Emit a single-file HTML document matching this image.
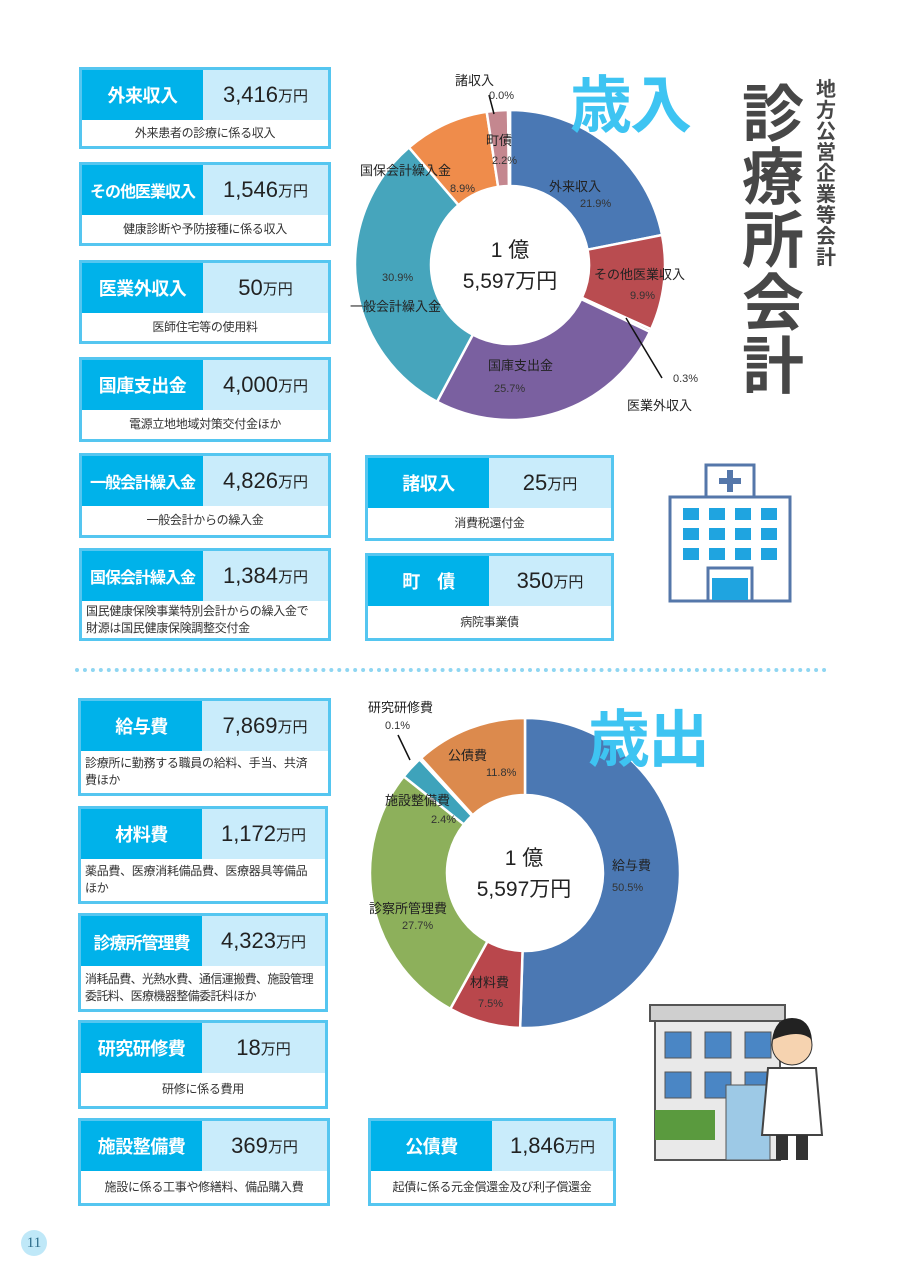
<!DOCTYPE html><html><head><meta charset="utf-8"><style>
body{margin:0;width:900px;height:1273px;background:#fff;position:relative;font-family:"Liberation Sans","Noto Sans CJK JP",sans-serif;color:#333;overflow:hidden}
.b{position:absolute;border:3px solid #55c6f0;background:#fff;box-sizing:border-box}
.h{position:absolute;left:0;top:0;height:50px;background:#00b2ea;color:#fff;font-weight:bold;font-size:18px;display:flex;align-items:center;justify-content:center;white-space:nowrap;letter-spacing:-0.5px}
.h.s{font-size:16px;letter-spacing:-1px}
.v{position:absolute;top:0;right:0;height:50px;background:#c9ecfb;display:flex;align-items:center;justify-content:center;font-size:22px;color:#222}
.v small{font-size:15px}
.d{position:absolute;left:0;right:0;top:50px;bottom:0;font-size:12px;display:flex;align-items:center;justify-content:center;color:#333;line-height:17px;white-space:nowrap;letter-spacing:-0.3px}
.d.l{justify-content:flex-start;padding-left:4px}
.t{position:absolute;font-size:13px;color:#222;white-space:nowrap}
.p{position:absolute;font-size:11px;color:#333;white-space:nowrap}
</style></head><body>
<div class="b" style="left:79px;top:67px;width:252px;height:82px"><div class="h" style="width:121px">外来収入</div><div class="v" style="left:121px">3,416<small>万円</small></div><div class="d">外来患者の診療に係る収入</div></div>
<div class="b" style="left:79px;top:162px;width:252px;height:84px"><div class="h s" style="width:121px">その他医業収入</div><div class="v" style="left:121px">1,546<small>万円</small></div><div class="d">健康診断や予防接種に係る収入</div></div>
<div class="b" style="left:79px;top:260px;width:252px;height:84px"><div class="h" style="width:121px">医業外収入</div><div class="v" style="left:121px">50<small>万円</small></div><div class="d">医師住宅等の使用料</div></div>
<div class="b" style="left:79px;top:357px;width:252px;height:85px"><div class="h" style="width:121px">国庫支出金</div><div class="v" style="left:121px">4,000<small>万円</small></div><div class="d">電源立地地域対策交付金ほか</div></div>
<div class="b" style="left:79px;top:453px;width:252px;height:85px"><div class="h s" style="width:121px">一般会計繰入金</div><div class="v" style="left:121px">4,826<small>万円</small></div><div class="d">一般会計からの繰入金</div></div>
<div class="b" style="left:79px;top:548px;width:252px;height:93px"><div class="h s" style="width:121px">国保会計繰入金</div><div class="v" style="left:121px">1,384<small>万円</small></div><div class="d l">国民健康保険事業特別会計からの繰入金で<br>財源は国民健康保険調整交付金</div></div>
<div class="b" style="left:365px;top:455px;width:249px;height:86px"><div class="h" style="width:121px">諸収入</div><div class="v" style="left:121px">25<small>万円</small></div><div class="d">消費税還付金</div></div>
<div class="b" style="left:365px;top:553px;width:249px;height:88px"><div class="h" style="width:121px">町　債</div><div class="v" style="left:121px">350<small>万円</small></div><div class="d">病院事業債</div></div>

<div style="position:absolute;left:75px;top:668px;width:752px;border-top:4px dotted #8fd6f2"></div>

<div class="b" style="left:78px;top:698px;width:253px;height:98px"><div class="h" style="width:121px">給与費</div><div class="v" style="left:121px">7,869<small>万円</small></div><div class="d l">診療所に勤務する職員の給料、手当、共済<br>費ほか</div></div>
<div class="b" style="left:78px;top:806px;width:250px;height:98px"><div class="h" style="width:121px">材料費</div><div class="v" style="left:121px">1,172<small>万円</small></div><div class="d l">薬品費、医療消耗備品費、医療器具等備品<br>ほか</div></div>
<div class="b" style="left:78px;top:913px;width:250px;height:99px"><div class="h s" style="width:121px;font-size:17px">診療所管理費</div><div class="v" style="left:121px">4,323<small>万円</small></div><div class="d l" style="letter-spacing:-0.6px">消耗品費、光熱水費、通信運搬費、施設管理<br>委託料、医療機器整備委託料ほか</div></div>
<div class="b" style="left:78px;top:1020px;width:250px;height:89px"><div class="h" style="width:121px">研究研修費</div><div class="v" style="left:121px">18<small>万円</small></div><div class="d">研修に係る費用</div></div>
<div class="b" style="left:78px;top:1118px;width:252px;height:88px"><div class="h" style="width:121px">施設整備費</div><div class="v" style="left:121px">369<small>万円</small></div><div class="d">施設に係る工事や修繕料、備品購入費</div></div>
<div class="b" style="left:368px;top:1118px;width:248px;height:88px"><div class="h" style="width:121px">公債費</div><div class="v" style="left:121px">1,846<small>万円</small></div><div class="d">起債に係る元金償還金及び利子償還金</div></div>

<svg id="s" width="900" height="1273" style="position:absolute;left:0;top:0"></svg>

<div style="position:absolute;left:570px;top:72px;font-size:62px;line-height:70px;font-weight:bold;color:#3ec4f2;letter-spacing:-2px">歳入</div>
<div style="position:absolute;left:588px;top:706px;font-size:62px;line-height:70px;font-weight:bold;color:#3ec4f2;letter-spacing:-2px">歳出</div>
<div style="position:absolute;left:742px;top:84px;width:64px;font-size:62px;line-height:63px;font-weight:bold;color:#474747">診療所会計</div>
<div style="position:absolute;left:816px;top:80px;width:22px;font-size:20px;line-height:21px;font-weight:bold;color:#474747">地方公営企業等会計</div>

<div style="position:absolute;left:460px;top:235px;width:100px;text-align:center;font-size:21px;line-height:31px;color:#222">1 億<br>5,597万円</div>
<div style="position:absolute;left:474px;top:843px;width:100px;text-align:center;font-size:21px;line-height:31px;color:#222">1 億<br>5,597万円</div>

<div class="t" style="left:455px;top:70px">諸収入</div><div class="p" style="left:489px;top:90px">0.0%</div>
<div class="t" style="left:486px;top:130px">町債</div><div class="p" style="left:492px;top:155px">2.2%</div>
<div class="t" style="left:360px;top:160px">国保会計繰入金</div><div class="p" style="left:450px;top:183px">8.9%</div>
<div class="t" style="left:549px;top:176px">外来収入</div><div class="p" style="left:580px;top:198px">21.9%</div>
<div class="t" style="left:594px;top:264px">その他医業収入</div><div class="p" style="left:630px;top:290px">9.9%</div>
<div class="p" style="left:382px;top:272px">30.9%</div><div class="t" style="left:350px;top:296px">一般会計繰入金</div>
<div class="t" style="left:488px;top:355px">国庫支出金</div><div class="p" style="left:494px;top:383px">25.7%</div>
<div class="p" style="left:673px;top:373px">0.3%</div><div class="t" style="left:627px;top:395px">医業外収入</div>

<div class="t" style="left:368px;top:697px">研究研修費</div><div class="p" style="left:385px;top:720px">0.1%</div>
<div class="t" style="left:448px;top:745px">公債費</div><div class="p" style="left:486px;top:767px">11.8%</div>
<div class="t" style="left:385px;top:790px">施設整備費</div><div class="p" style="left:431px;top:814px">2.4%</div>
<div class="t" style="left:612px;top:855px">給与費</div><div class="p" style="left:612px;top:882px">50.5%</div>
<div class="t" style="left:369px;top:898px">診察所管理費</div><div class="p" style="left:402px;top:920px">27.7%</div>
<div class="t" style="left:470px;top:972px">材料費</div><div class="p" style="left:478px;top:998px">7.5%</div>

<div style="position:absolute;left:21px;top:1230px;width:26px;height:26px;border-radius:50%;background:#bfe8f8;font-size:15px;text-align:center;line-height:26px;color:#2a6b8a;font-family:'Liberation Serif',serif">11</div>

<script>
var s=document.getElementById('s'),NS='http://www.w3.org/2000/svg';
function el(t,a){var e=document.createElementNS(NS,t);for(var k in a)e.setAttribute(k,a[k]);s.appendChild(e);return e}
function donut(cx,cy,R,r,data){var a=-Math.PI/2;data.forEach(function(d){var b=a+d[0]/100*2*Math.PI;if(d[0]>0){var l=(b-a)>Math.PI?1:0;
var p='M'+(cx+R*Math.cos(a))+' '+(cy+R*Math.sin(a))+'A'+R+' '+R+' 0 '+l+' 1 '+(cx+R*Math.cos(b))+' '+(cy+R*Math.sin(b))+'L'+(cx+r*Math.cos(b))+' '+(cy+r*Math.sin(b))+'A'+r+' '+r+' 0 '+l+' 0 '+(cx+r*Math.cos(a))+' '+(cy+r*Math.sin(a))+'Z';
el('path',{d:p,fill:d[1],stroke:'#fff','stroke-width':2.5});}a=b;});}
donut(510,265,155,79,[[21.9,'#4a78b4'],[9.9,'#b94c50'],[0.3,'#a9b4b0'],[25.7,'#7a60a0'],[30.9,'#46a5bc'],[8.9,'#ef8c4b'],[2.2,'#c4878f'],[0.2,'#ccc']]);
donut(525,873,155,78,[[50.5,'#4b78b3'],[7.5,'#b9474c'],[27.7,'#8db05b'],[2.4,'#3ea3bb'],[0.2,'#9bc'],[11.7,'#dc8a4d']]);
el('line',{x1:489,y1:95,x2:494,y2:114,stroke:'#111','stroke-width':1.5});
el('line',{x1:626,y1:318,x2:662,y2:378,stroke:'#111','stroke-width':1.5});
el('line',{x1:398,y1:735,x2:410,y2:760,stroke:'#111','stroke-width':1.5});
el('rect',{x:706,y:465,width:48,height:32,fill:'#fff',stroke:'#5577aa','stroke-width':3});
el('rect',{x:727,y:470,width:6,height:22,fill:'#5577aa'});el('rect',{x:719,y:478,width:22,height:6,fill:'#5577aa'});
el('rect',{x:670,y:497,width:120,height:104,fill:'#fff',stroke:'#5577aa','stroke-width':3});
for(var i=0;i<3;i++)for(var j=0;j<4;j++)el('rect',{x:683+j*26,y:508+i*20,width:16,height:12,fill:'#1fa4e0'});
el('rect',{x:708,y:568,width:44,height:33,fill:'#fff',stroke:'#5577aa','stroke-width':3});
el('rect',{x:712,y:578,width:36,height:22,fill:'#1fa4e0'});
el('rect',{x:655,y:1005,width:125,height:155,fill:'#e9e9e9',stroke:'#555','stroke-width':2});
el('rect',{x:650,y:1005,width:135,height:16,fill:'#cfcfcf',stroke:'#555','stroke-width':2});
[665,705,745].forEach(function(x){el('rect',{x:x,y:1032,width:26,height:26,fill:'#4a86c5',stroke:'#555'});el('rect',{x:x,y:1072,width:26,height:26,fill:'#4a86c5',stroke:'#555'})});
el('rect',{x:655,y:1110,width:60,height:30,fill:'#5a9a3e'});el('rect',{x:726,y:1085,width:44,height:75,fill:'#9dc9e6',stroke:'#555'});
el('circle',{cx:792,cy:1045,r:20,fill:'#f6d3b0',stroke:'#333'});el('path',{d:'M772 1040Q775 1018 792 1018Q810 1018 812 1040Q800 1028 772 1040Z',fill:'#222'});
el('path',{d:'M768 1068L816 1068L822 1135L762 1135Z',fill:'#fff',stroke:'#444','stroke-width':2});
el('rect',{x:776,y:1135,width:12,height:25,fill:'#333'});el('rect',{x:796,y:1135,width:12,height:25,fill:'#333'});
</script>
</body></html>
